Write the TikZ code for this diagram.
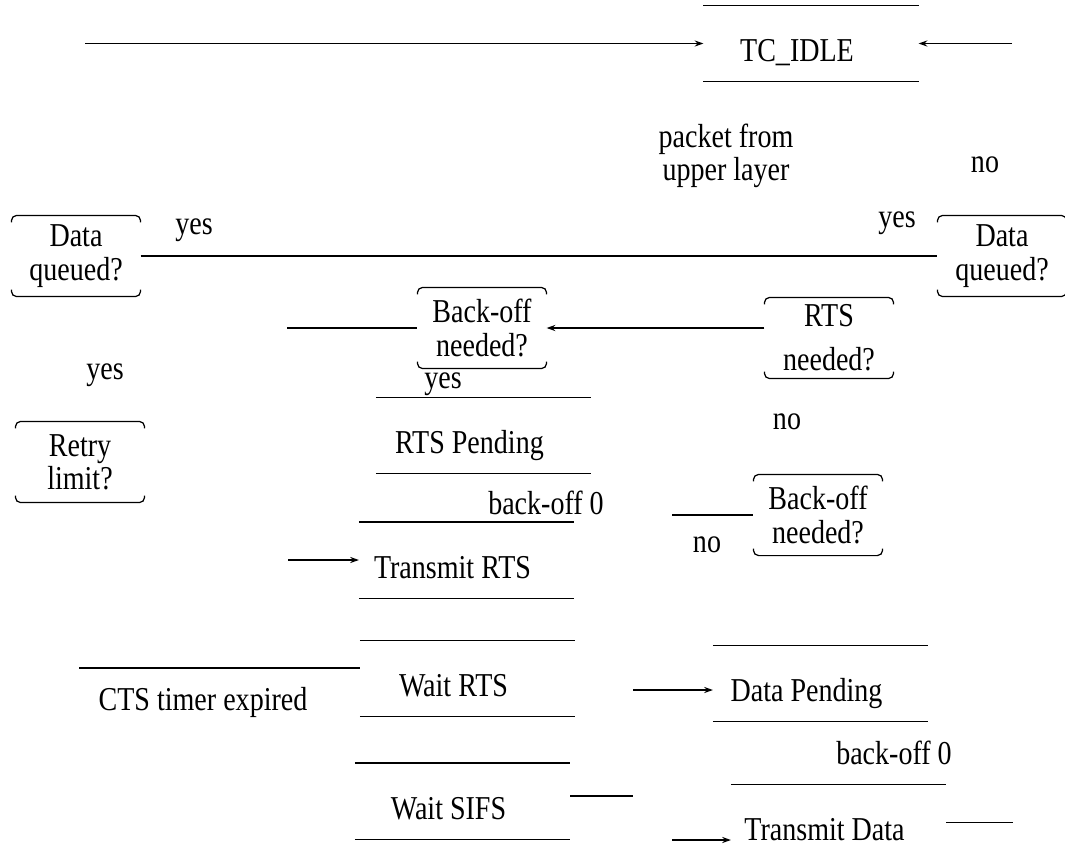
\documentclass[tikz,border=0pt]{standalone}
\usepackage{fontspec}
\setmainfont{Liberation Serif}[FakeStretch=0.84]
\usetikzlibrary{arrows.meta}
\begin{document}
\begin{tikzpicture}[x=0.02cm,y=-0.02cm,line width=0.7pt,rounded corners=3pt,
	>={Stealth[length=5pt,width=3.5pt]},
	font=\fontsize{19}{19}\selectfont,
	state/.style={minimum width=4.28cm,minimum height=1.5cm,inner sep=0pt,
		text height=21pt,text depth=0pt,
		execute at end node={\hspace{0.56cm}},
		append after command={(\tikzlastnode.north west) -- (\tikzlastnode.north east)
			(\tikzlastnode.south west) -- (\tikzlastnode.south east)}},
	decision/.style={minimum width=2.56cm,minimum height=1.6cm,inner sep=0pt,align=center,
		append after command={([yshift=-4pt]\tikzlastnode.north west) |- (\tikzlastnode.north)
			-| ([yshift=-4pt]\tikzlastnode.north east)
			([yshift=4pt]\tikzlastnode.south west) |- (\tikzlastnode.south)
			-| ([yshift=4pt]\tikzlastnode.south east)}}]
	\useasboundingbox (0,0) rectangle (1065,859);
	\clip (0,0) rectangle (1065,859);
	% states
	\draw node[state] (idle) at (811,43.5) {TC\_IDLE};
	\draw node[state] (rtsp) at (483.5,435.5) {RTS Pending};
	\draw node[state] (trts) at (466.5,560) {Transmit RTS};
	\draw node[state] (wrts) at (467.5,678.5) {Wait RTS};
	\draw node[state] (wsifs) at (462.5,801) {Wait SIFS};
	\draw node[state] (dpend) at (820.5,683.5) {Data Pending};
	\draw node[state] (tdata) at (838.5,822.5) {Transmit Data};
	% decisions
	\draw node[decision] (dql) at (76,256) {Data\\queued?};
	\draw node[decision] (dqr) at (1002,256) {Data\\queued?};
	\draw node[decision] (bo1) at (482,328) {Back-off\\needed?};
	\draw node[decision] (rtsn) at (829,338) {RTS\\[6pt]needed?};
	\draw node[decision] (bo2) at (818,515) {Back-off\\needed?};
	\draw node[decision] (retry) at (80,462) {Retry\\limit?};
	% labels
	\node[align=center] (pkt) at (726,156) {packet from\\upper layer};
	\node (no1) at (985,165) {no};
	\node (yes1) at (897,223) {yes};
	\node (yes2) at (194,230) {yes};
	\node (yes3) at (105,375) {yes};
	\node (yes4) at (443,384) {yes};
	\node (no2) at (787,422) {no};
	\node (bk1) at (546,503) {back-off 0};
	\node (no3) at (707,545) {no};
	\node (cts) at (203,702) {CTS timer expired};
	\node (bk2) at (894,753) {back-off 0};
	% free ends
	\coordinate (topl) at (85,43.5);
	\coordinate (topr) at (1012,43.5);
	\coordinate (bol) at (287,328);
	\coordinate (bo2l) at (672,515);
	\coordinate (trtsl) at (288,560);
	\coordinate (ctsl) at (79,668);
	\coordinate (dpl) at (633,690);
	\coordinate (sifsr) at (633,796);
	\coordinate (tdl) at (672,840);
	\coordinate (tdr) at (1013,822.5);
	% connectors
	\draw[->] (topl) -- (idle);
	\draw[->] (topr) -- (idle);
	\draw (dql) -- (dqr);
	\draw (bol) -- (bo1);
	\draw[->] (rtsn.west |- bo1) -- (bo1);
	\draw (bo2l) -- (bo2);
	\draw[->] (trtsl) -- (trts);
	\draw (ctsl) -- (ctsl -| wrts.west);
	\draw[->] (dpl) -- (dpl -| dpend.west);
	\draw (wsifs.east |- sifsr) -- (sifsr);
	\draw[->] (tdl) -- (tdl -| tdata.west);
	\draw (tdata) -- (tdr);
\end{tikzpicture}
\end{document}
